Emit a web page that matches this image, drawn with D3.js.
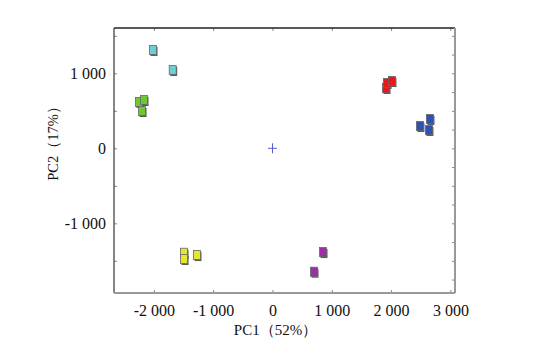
<!DOCTYPE html>
<html>
<head>
<meta charset="utf-8">
<script src="https://cdn.jsdelivr.net/npm/d3@7"></script>
<style>
body { margin: 0; background: #fff; }
text { font-family: "Liberation Serif", "DejaVu Serif", serif; }
</style>
</head>
<body>
<div class="chart"></div>
<script>
// group names, colours and PCA scores
const groups = ['cyan', 'green', 'red', 'blue', 'yellow', 'purple']
const groupColors = ['#6dcfd4', '#6cc933', '#e8171c', '#2c52b5', '#e6e62e', '#9e2fa6']
const pc1 = [
  [-2015, -1683],
  [-2251, -2167, -2200],
  [1914, 1931, 2015],
  [2487, 2656, 2639],
  [-1492, -1492, -1273],
  [852, 700]
]
const pc2 = [
  [1311, 1044],
  [617, 644, 497],
  [804, 871, 897],
  [297, 391, 244],
  [-1392, -1476, -1423],
  [-1383, -1645]
]
const xTicks = [-2000, -1000, 0, 1000, 2000, 3000]
const yTicks = [-1000, 0, 1000]
const xLabel = 'PC1（52%）'
const yLabel = 'PC2（17%）'

let margin = { top: 28, right: 79, bottom: 71, left: 114 },
width = 534 - margin.left - margin.right,
height = 364 - margin.top - margin.bottom;

let svg = d3.select(".chart")
.append("svg")
.attr("width", 534)
.attr("height", 364)
.append("g")
.attr("transform", "translate(" + margin.left + "," + margin.top + ")");

const x = d3.scaleLinear().domain([-2673, 3078]).range([0, width])
const y = d3.scaleLinear().domain([-1929, 1604]).range([height, 0])

// "1 000" style, plain hyphen for negatives
const fmt = d => d3.format(",")(d).replace(/,/g, ' ').replace('−', '-')

// ticks (inward) + labels
svg.append("g").attr("transform", "translate(0," + height + ")")
.call(d3.axisBottom(x).tickValues(xTicks).tickSize(-3).tickPadding(12).tickFormat(fmt))
.call(g => g.select(".domain").remove())
svg.append("g")
.call(d3.axisTop(x).tickValues(xTicks).tickSize(-3).tickFormat(''))
.call(g => g.select(".domain").remove())
svg.append("g")
.call(d3.axisLeft(y).tickValues(d3.range(-1500, 1600, 500)).tickSize(-3).tickPadding(8)
  .tickFormat(d => yTicks.includes(d) ? fmt(d) : ''))
.call(g => g.select(".domain").remove())
svg.append("g").attr("transform", "translate(" + width + ",0)")
.call(d3.axisRight(y).tickValues(d3.range(-1750, 1600, 250)).tickSize(-3).tickFormat(''))
.call(g => g.select(".domain").remove())

svg.selectAll(".tick line").attr("stroke", "#888")
svg.selectAll(".tick text").attr("font-size", 16).attr("fill", "#111")
.style("font-family", '"Liberation Serif", serif')

// frame: top/left dark, right/bottom grey
svg.append("line").attr("x1", 0).attr("x2", width).attr("y1", 0).attr("y2", 0)
.attr("stroke", "#222").attr("stroke-width", 1.3)
svg.append("line").attr("x1", 0).attr("x2", 0).attr("y1", 0).attr("y2", height)
.attr("stroke", "#444").attr("stroke-width", 1.3)
svg.append("line").attr("x1", width).attr("x2", width).attr("y1", 0).attr("y2", height)
.attr("stroke", "#999").attr("stroke-width", 2)
svg.append("line").attr("x1", 0).attr("x2", width).attr("y1", height).attr("y2", height)
.attr("stroke", "#999").attr("stroke-width", 2)

// origin cross
svg.append("path")
.attr("d", "M" + (x(0) - 4.5) + "," + y(0) + "h9M" + x(0) + "," + (y(0) - 5) + "v10")
.attr("stroke", "#5a5ad0").attr("stroke-width", 1)

// points: little blocks with a dark shadow
const points = []
groups.forEach((g, i) => pc1[i].forEach((v, j) => points.push({ g: i, x: v, y: pc2[i][j] })))

const w = 7, h = 9
svg.selectAll(".shadow").data(points).join("rect")
.attr("class", "shadow")
.attr("x", d => x(d.x) - w / 2 + 1).attr("y", d => y(d.y) - h / 2 + 1.5)
.attr("width", w).attr("height", h)
.attr("fill", "#333").attr("opacity", 0.8)
svg.selectAll(".pt").data(points).join("rect")
.attr("class", "pt")
.attr("x", d => x(d.x) - w / 2).attr("y", d => y(d.y) - h / 2)
.attr("width", w).attr("height", h)
.attr("fill", d => groupColors[d.g])
.attr("stroke", "#666").attr("stroke-width", 0.8)

// axis titles
svg.append("text")
.attr("x", x(0) + 3).attr("y", height + 42)
.attr("text-anchor", "middle").attr("font-size", 15).attr("fill", "#111")
.text(xLabel)
svg.append("text")
.attr("transform", "translate(" + (-61) + "," + 112 + ") rotate(-90)")
.attr("text-anchor", "middle").attr("dy", "0.35em").attr("font-size", 14.5).attr("fill", "#111")
.text(yLabel)
</script>
</body>
</html>
